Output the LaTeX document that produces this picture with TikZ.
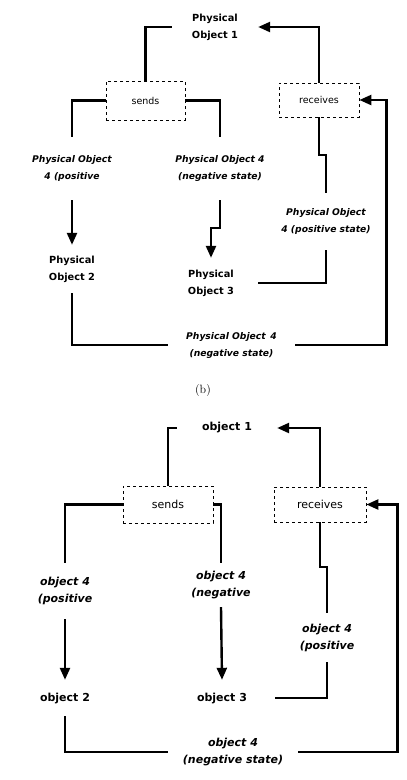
\documentclass[tikz,border=0pt]{standalone}
\usepackage{fontspec}
\setsansfont{DejaVu Sans}
\usetikzlibrary{arrows.meta}
\begin{document}
\begin{tikzpicture}[x=1pt,y=-1pt,
  conn/.style={line width=2.4pt},
  arr/.style={conn,-{Triangle[length=12pt,width=10pt]}},
  box/.style={draw,dashed,line width=0.8pt,inner sep=0pt},
  tfont/.style={font=\sffamily\fontsize{9.5}{17}\selectfont,align=center,inner sep=0pt},
  bfont/.style={font=\sffamily\fontsize{11}{17}\selectfont,align=center,inner sep=0pt},
  tobj/.style={tfont,font=\sffamily\bfseries\fontsize{9.8}{17}\selectfont},
  tlab/.style={tfont,font=\sffamily\bfseries\itshape\fontsize{9.2}{17}\selectfont},
  bobj/.style={bfont,font=\sffamily\bfseries\fontsize{11}{17}\selectfont},
  blab/.style={bfont,font=\sffamily\bfseries\itshape\fontsize{11}{17}\selectfont}]
\useasboundingbox (0,0) rectangle (407,780);
% ---------- top diagram ----------
\node[tobj,minimum width=86pt] (po1) at (215,27) {Physical\\Object 1};
\node[box,tfont,minimum width=79pt,minimum height=39pt] (sends) at (145.5,100.5) {sends};
\node[box,tfont,minimum width=80pt,minimum height=34pt] (receives) at (319,100) {receives};
\node[tlab,minimum height=63pt] (l1) at (72,168.5) {Physical Object\\4 (positive};
\node[tlab,minimum height=63pt] (l2) at (220,168.5) {Physical Object 4\\(negative state)};
\node[tobj,minimum height=48pt] (po2) at (72,269) {Physical\\Object 2};
\node[tobj,minimum height=50pt,minimum width=94pt] (po3) at (211,283) {Physical\\Object 3};
\node[tlab,minimum height=57pt] (l3) at (326,221.5) {Physical Object\\4 (positive state)};
\node[tlab,minimum width=127pt] (l4) at (231.5,345) {Physical Object\enspace4\\(negative state)};
\draw[conn] (sends.north) |- (po1.west);
\draw[arr] (receives.north) |- (po1.east);
\draw[conn] (sends.west) -| (l1.north);
\draw[conn] (sends.east) -| (l2.north);
\draw[arr] (l1.south) -- (po2.north);
\draw[arr] (l2.south) -- ++(0,28) -| (po3.north);
\draw[conn] (po3.east) -| (l3.south);
\draw[conn] (l3.north) -- ++(0,-38) -| (receives.south);
\draw[conn] (po2.south) |- (l4.west);
\draw[arr] (l4.east) -| ([xshift=27pt]receives.east) -- (receives.east);
% caption
\node[font=\fontsize{12}{14}\selectfont,inner sep=0pt] (cap) at (203,390) {(b)};
% ---------- bottom diagram ----------
\node[bobj,minimum width=100pt] (o1) at (227,428) {object 1};
\node[box,bfont,minimum width=90pt,minimum height=37pt] (sends2) at (168,504.5) {sends};
\node[box,bfont,minimum width=92pt,minimum height=35pt] (receives2) at (320,504.5) {receives};
\node[blab,minimum height=56pt] (m1) at (65,591) {object 4\\(positive};
\node[blab,minimum height=44pt] (m2) at (221,585) {object 4\\(negative};
\node[bobj,minimum height=36pt] (o2) at (65,698) {object 2};
\node[bobj,minimum height=36pt,minimum width=106pt] (o3) at (222,698) {object 3};
\node[blab,minimum height=49pt] (m3) at (327,637.5) {object 4\\(positive};
\node[blab,minimum width=130pt] (m4) at (233,752) {object 4\\(negative state)};
\draw[conn] (sends2.north) |- (o1.west);
\draw[arr] (receives2.north) |- (o1.east);
\draw[conn] (sends2.west) -| (m1.north);
\draw[conn] (sends2.east) -| (m2.north);
\draw[arr] (m1.south) -- (o2.north);
\draw[arr] (m2.south) -- (o3.north);
\draw[conn] (o3.east) -| (m3.south);
\draw[conn] (m3.north) -- ++(0,-46) -| (receives2.south);
\draw[conn] (o2.south) |- (m4.west);
\draw[arr] (m4.east) -| ([xshift=31pt]receives2.east) -- (receives2.east);
\end{tikzpicture}
\end{document}
